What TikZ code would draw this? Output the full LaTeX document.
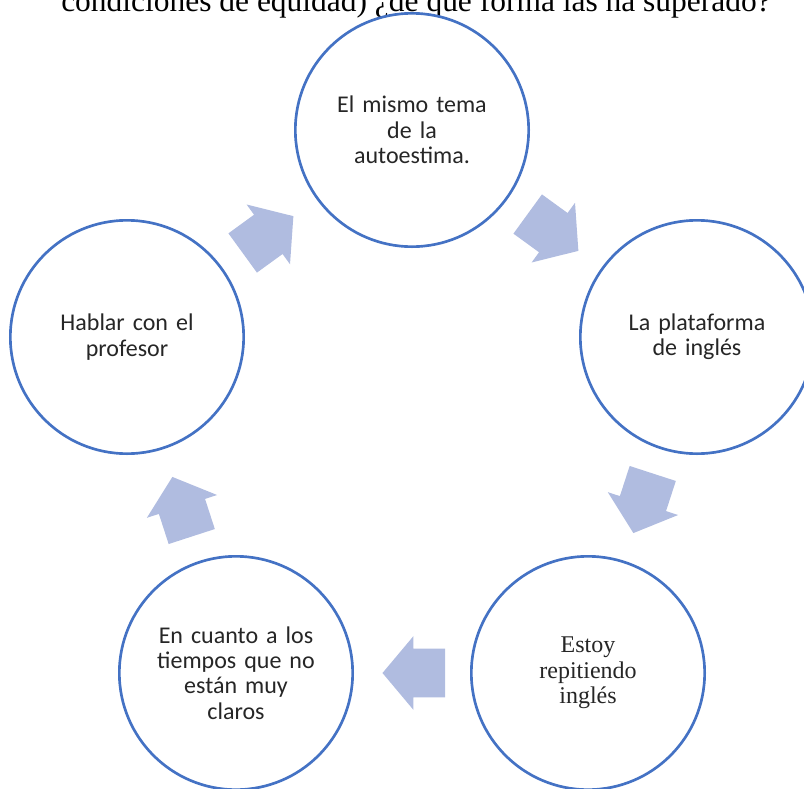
\documentclass[tikz,border=0pt]{standalone}
\usepackage{fontspec}
\setmainfont{Liberation Serif}
\newfontfamily\calibri{Carlito}
\usetikzlibrary{shapes.arrows,calc}
\definecolor{ringblue}{RGB}{68,114,196}
\definecolor{arrowfill}{RGB}{176,188,224}
\begin{document}
\begin{tikzpicture}[x=0.75pt, y=-0.75pt,
  main node/.style={circle,draw=ringblue,line width=2pt,fill=white,minimum size=175pt,inner sep=0pt,align=center,text width=120pt,text=black!85},
  cycle arrow/.style={single arrow,draw=none,fill=arrowfill,minimum height=47pt,inner xsep=0pt,inner ysep=18pt,text height=0pt,text depth=0pt,single arrow head extend=9.5pt,single arrow tip angle=100,rotate=#1,xshift=-9pt}]
\useasboundingbox (0,0) rectangle (804,789);
\node[anchor=base,font=\fontsize{23.6}{25}\selectfont] (title) at (416,11) {condiciones de equidad) ¿de qué forma las ha superado?};
\begin{scope}[every node/.style={font=\calibri\fontsize{18}{19}\selectfont}]
\node[main node] (v1) at (412,130) {El mismo tema\\de la\\autoestima.};
\node[main node] (v2) at (697,337) {La plataforma\\de inglés};
\node[main node,font=\fontsize{18}{19}\selectfont] (v3) at (588,673) {Estoy\\repitiendo\\inglés};
\node[main node] (v4) at (236,673) {En cuanto a los\\tiempos que no\\están muy\\claros};
\node[main node] (v5) at (127,337) {Hablar con el\\profesor};
%\node[main node] (v) at (,) {};
\end{scope}
\begin{scope}
\node[cycle arrow=36] (a51) at ($(v5)!0.5!(v1)$) {};
\node[cycle arrow=-36] (a12) at ($(v1)!0.5!(v2)$) {};
\node[cycle arrow=-108] (a23) at ($(v2)!0.5!(v3)$) {};
\node[cycle arrow=180] (a34) at ($(v3)!0.5!(v4)$) {};
\node[cycle arrow=108] (a45) at ($(v4)!0.5!(v5)$) {};
\end{scope}
\end{tikzpicture}
\end{document}
